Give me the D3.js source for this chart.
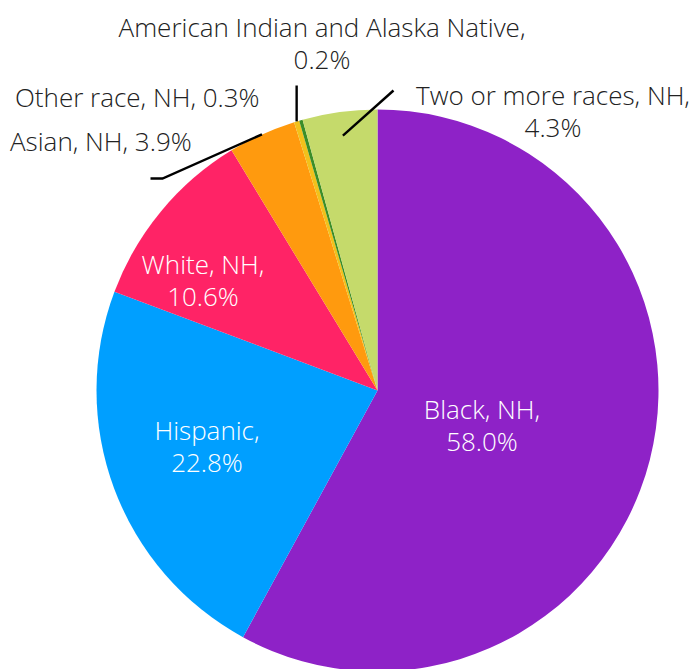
<!DOCTYPE html>
<html>
<head>
<meta charset="utf-8">
<script src="https://cdn.jsdelivr.net/npm/d3@7"></script>
<style>
  body{margin:0;background:#fff;}
  svg text{font-family:"Open Sans",sans-serif;font-weight:300;}
</style>
</head>
<body>
<script>
// data, clockwise from 12 o'clock
var categories=["Black, NH","Hispanic","White, NH","Asian, NH","Other race, NH","American Indian and Alaska Native","Two or more races, NH"]
var shares=[58.0,22.8,10.6,3.9,0.3,0.2,4.3]
var colors=["#8e22c7","#009fff","#ff2366","#ff9a0e","#f2c11b","#3b8e29","#c5da6b"]

// label layout: first baseline of label relative to pie centre, line split, inside or not
var labelPos=[[104.5,28.5],[-170.5,49.5],[-174.5,-116.5],[-367.5,-240],[-362.5,-284],[-55.5,-354],[175.5,-286]]
var labelBreak=[true,true,true,false,false,true,true]
var labelInside=[true,true,true,false,false,false,false]
var labelAnchor=["middle","middle","middle","start","start","middle","middle"]
// leader lines: start radius factor, then elbow points relative to centre
var leaders=[null,null,null,
  {r:1.0,pts:[[-215,-212],[-227,-212]]},
  {r:1.0,pts:[[null,-305]]},
  null,
  {r:0.915,pts:[[16,-300]]}]

var draw=function(){
  var screen={width:692,height:669}
  var cx=377.5,cy=390.5,radius=281
  var svg=d3.select("body").append("svg")
            .attr("width",screen.width)
            .attr("height",screen.height)
  var plot=svg.append("g").attr("transform","translate("+cx+","+cy+")")
  var pie=d3.pie().sort(null).value(function(d){return d})
  var arcs=pie(shares)
  var arc=d3.arc().innerRadius(0).outerRadius(radius)
  plot.selectAll("path.slice")
      .data(arcs)
      .enter()
      .append("path")
      .classed("slice",true)
      .attr("fill",function(d,i){return colors[i]})
      .attr("d",arc)

  // leader lines
  arcs.forEach(function(d,i){
    var L=leaders[i]
    if(!L)return
    var a=(d.startAngle+d.endAngle)/2
    var sx=Math.sin(a)*radius*L.r, sy=-Math.cos(a)*radius*L.r
    var pts=[[sx,sy]]
    L.pts.forEach(function(p){pts.push([p[0]===null?sx:p[0],p[1]])})
    plot.append("path")
        .attr("d",d3.line()(pts))
        .attr("fill","none")
        .attr("stroke","#000")
        .attr("stroke-width",2.4)
  })

  // labels
  arcs.forEach(function(d,i){
    var val=shares[i].toFixed(1)+"%"
    var lines=labelBreak[i]?[categories[i]+",",val]:[categories[i]+", "+val]
    var t=plot.append("text")
              .attr("text-anchor",labelAnchor[i])
              .attr("fill",labelInside[i]?"#fff":"#222")
              .style("font-size","26px")
    lines.forEach(function(s,j){
      t.append("tspan")
       .attr("x",labelPos[i][0])
       .attr("y",labelPos[i][1]+j*32)
       .text(s)
    })
  })
}
draw()
</script>
</body>
</html>
